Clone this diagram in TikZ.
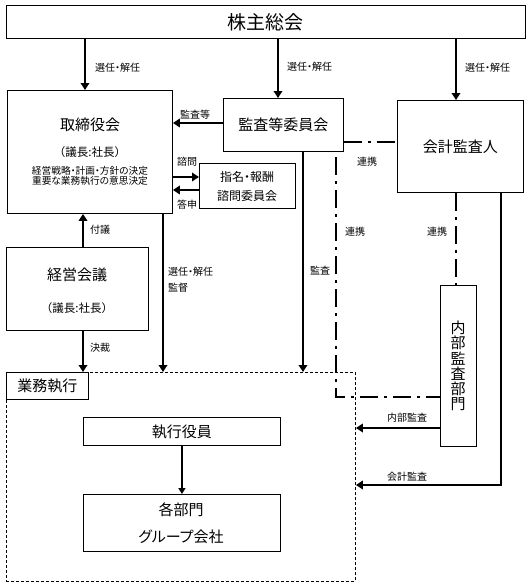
\documentclass[tikz,border=0pt]{standalone}
\usepackage{fontspec}
\setmainfont{Noto Sans CJK JP}[RawFeature={+palt}]
\newfontfamily\fwfont{Noto Sans CJK JP}
\usetikzlibrary{arrows.meta}
\begin{document}
\begin{tikzpicture}[x=1pt,y=-1pt,
  box/.style={draw,line width=0.9pt,inner sep=0pt,anchor=north west},
  big/.style={font=\fontsize{19}{20}\selectfont},
  mid/.style={font=\fontsize{15}{16}\selectfont},
  txt/.style={inner sep=0pt},
  chair/.style={inner sep=0pt,font=\fwfont\fontsize{11.5}{12}\selectfont},
  lab/.style={inner sep=0pt,font=\fontsize{10}{10.5}\selectfont},
  arr/.style={line width=2.7pt,-{Triangle[length=7pt,width=8.5pt]}},
  thinarr/.style={line width=2pt,-{Triangle[length=6pt,width=7pt]}},
  dashdot/.style={line width=2.7pt,dash pattern=on 18pt off 6pt on 3pt off 6pt},
  region/.style={draw,line width=0.9pt,dash pattern=on 3pt off 2pt,inner sep=0pt,anchor=north west}]
\fill[white] (0,0) rectangle (531,586);
\useasboundingbox (0,0) rectangle (531,586);

% boxes
\node[box,big,minimum width=519pt,minimum height=33pt] (soukai) at (6,5) {株主総会};
\node[box,minimum width=165pt,minimum height=123pt] (tori) at (7,90) {};
\node[box,mid,minimum width=120pt,minimum height=53pt] (kansa) at (223,98) {監査等委員会};
\node[box,minimum width=96pt,minimum height=45pt] (shimei) at (199,163) {};
\node[box,mid,minimum width=126pt,minimum height=92pt] (kaikei) at (397,100) {会計監査人};
\node[box,minimum width=142pt,minimum height=83pt] (keiei) at (6,247) {};
\node[box,minimum width=36pt,minimum height=161pt] (naibu) at (440,285) {};
\node[region,minimum width=349pt,minimum height=209pt] (gyomu) at (6,372) {};
\node[box,mid,minimum width=82pt,minimum height=27pt] (gyomulabel) at (6,372) {業務執行};
\node[box,mid,minimum width=197pt,minimum height=28pt] (shikko) at (83,417) {執行役員};
\node[box,minimum width=197pt,minimum height=57pt] (kakubu) at (83,494) {};

% texts inside boxes
\node[txt,mid] (toriT) at (90,125) {取締役会};
\node[chair] (toriC) at (90,152) {（議長:社長）};
\node[txt,font=\fontsize{9.7}{9.6}\selectfont,align=center] (toriD) at (90,176)
  {経営戦略・計画・方針の決定\\重要な業務執行の意思決定};
\node[txt,font=\fontsize{12}{13}\selectfont] (shimeiA) at (247,177) {指名・報酬};
\node[txt,font=\fontsize{12}{13}\selectfont] (shimeiB) at (247,196) {諮問委員会};
\node[txt,mid] (keieiT) at (77,275) {経営会議};
\node[chair] (keieiC) at (77,308) {（議長:社長）};
\node[txt,font=\fontsize{15}{15.3}\selectfont,align=center] (naibuT) at (458,366)
  {内\\部\\監\\査\\部\\門};
\node[txt,mid] (kakubuA) at (181,510) {各部門};
\node[txt,mid] (kakubuB) at (181,537) {グループ会社};

% helper coordinates
\coordinate (xa) at (85,0);
\coordinate (xb) at (278,0);
\coordinate (xc) at (456,0);
\coordinate (xd) at (83,0);
\coordinate (xe) at (163,0);
\coordinate (xf) at (303,0);
\coordinate (xg) at (501,0);
\coordinate (ya) at (0,123);
\coordinate (yb) at (0,177);
\coordinate (yc) at (0,190);
\coordinate (yd) at (0,142);
\coordinate (ye) at (0,428);
\coordinate (yf) at (0,485);
\coordinate (dd1) at (336,157);
\coordinate (dd2) at (336,397);
\coordinate (kc) at (501,485);

% arrows from 株主総会
\draw[arr] (soukai.south -| xa) -- (tori.north -| xa);
\draw[arr] (soukai.south -| xb) -- (kansa.north -| xb);
\draw[arr] (soukai.south -| xc) -- (kaikei.north -| xc);

% other arrows
\draw[arr] (kansa.west |- ya) -- (tori.east |- ya);
\draw[arr] (tori.east |- yb) -- (shimei.west |- yb);
\draw[arr] (shimei.west |- yc) -- (tori.east |- yc);
\draw[arr] (keiei.north -| xd) -- (tori.south -| xd);
\draw[arr] (keiei.south -| xd) -- (gyomu.north -| xd);
\draw[arr] (tori.south -| xe) -- (gyomu.north -| xe);
\draw[arr] (kansa.south -| xf) -- (gyomu.north -| xf);
\draw[arr] (naibu.west |- ye) -- (gyomu.east |- ye);
\draw[arr] (kaikei.south -| xg) -- (kc) -- (gyomu.east |- yf);
\draw[thinarr] (shikko.south) -- (kakubu.north);

% dash-dot links
\draw[dashdot] (kansa.east |- yd) -- (kaikei.west |- yd);
\draw[dashdot] (dd1) -- (dd2) -- (naibu.west |- dd2);
\draw[dashdot] (kaikei.south -| xc) -- (naibu.north -| xc);

% labels
\node[lab,anchor=west] (l1) at (95,68) {選任・解任};
\node[lab,anchor=west] (l2) at (287,67) {選任・解任};
\node[lab,anchor=west] (l3) at (465,68) {選任・解任};
\node[lab] (l4) at (195,115) {監査等};
\node[lab,anchor=west] (l5) at (177,162) {諮問};
\node[lab,anchor=west] (l6) at (177,205) {答申};
\node[lab] (l7) at (367,162) {連携};
\node[lab] (l8) at (355,232) {連携};
\node[lab] (l9) at (437,232) {連携};
\node[lab] (l10) at (320,271) {監査};
\node[lab,anchor=west] (l11) at (90,230) {付議};
\node[lab,anchor=west] (l12) at (90,348) {決裁};
\node[lab,anchor=west] (l13) at (168,272) {選任・解任};
\node[lab,anchor=west] (l14) at (168,288) {監督};
\node[lab] (l15) at (407,418) {内部監査};
\node[lab] (l16) at (407,477) {会計監査};
\end{tikzpicture}
\end{document}
